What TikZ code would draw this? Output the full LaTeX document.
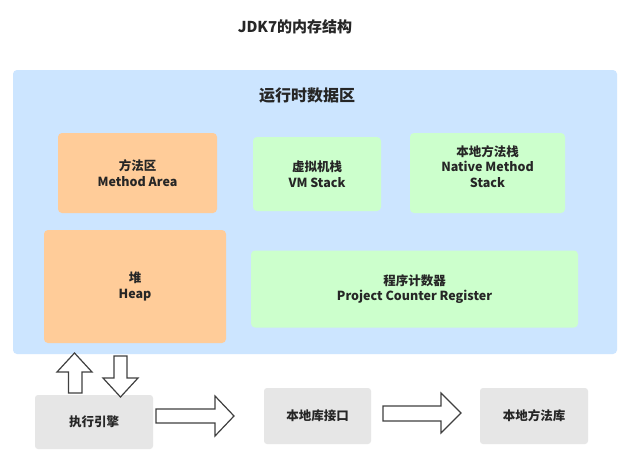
\documentclass[tikz,border=0pt]{standalone}
\usepackage{fontspec}
\setmainfont{Noto Sans CJK SC}
\definecolor{areablue}{HTML}{CCE5FF}
\definecolor{shareorange}{HTML}{FFCC99}
\definecolor{privgreen}{HTML}{CCFFCC}
\definecolor{outgray}{HTML}{E6E6E6}
\definecolor{arrowgray}{HTML}{404040}
\tikzset{
  memarea/.style={rectangle,rounded corners=4pt,inner sep=0pt,align=center,
    font=\fontsize{12.5}{15.5}\selectfont\bfseries,text=black!85},
  sharebox/.style={memarea,fill=shareorange},
  privbox/.style={memarea,fill=privgreen},
  outbox/.style={memarea,fill=outgray,rounded corners=3pt},
  blockarrow/.style={draw=arrowgray,line width=1.2pt,fill=white,line join=miter}
}
\begin{document}
\begin{tikzpicture}[x=1pt,y=-1pt]
\useasboundingbox[fill=white] (0,0) rectangle (621,455);
% title
\node[font=\fontsize{15}{18}\selectfont\bfseries,text=black!85] (title) at (295,27) {JDK7的内存结构};
% runtime data area
\node[memarea,fill=areablue,minimum width=604pt,minimum height=284pt] (runtime) at (315,212) {};
\node[font=\fontsize{16}{19}\selectfont\bfseries,text=black!85] (runtimelabel) at (307,96) {运行时数据区};
\node[sharebox,minimum width=159pt,minimum height=80pt] (method) at (137.5,173) {方法区\\Method Area};
\node[privbox,minimum width=128pt,minimum height=74pt] (vmstack) at (317,174) {虚拟机栈\\VM Stack};
\node[privbox,minimum width=155pt,minimum height=80pt] (native) at (487.5,173) {};
\node[memarea] (nativelabel) at (487.5,166.5) {本地方法栈\\Native Method\\Stack};
\node[sharebox,minimum width=182pt,minimum height=113pt] (heap) at (135,286.5) {堆\\Heap};
\node[privbox,minimum width=327pt,minimum height=77pt] (pc) at (414.5,289) {程序计数器\\Project Counter Register};
% outside
\node[outbox,minimum width=118pt,minimum height=54pt] (engine) at (94,422) {执行引擎};
\node[outbox,minimum width=107pt,minimum height=56pt] (nativeif) at (317.5,416) {本地库接口};
\node[outbox,minimum width=108pt,minimum height=56pt] (nativelib) at (534,416) {本地方法库};
% block arrows
\draw[blockarrow] (68.5,393) -- (68.5,372) -- (57,372) -- (74.5,353) -- (92,372) -- (82,372) -- (82,393) -- cycle;
\draw[blockarrow] (114,356) -- (127,356) -- (127,378) -- (138,378) -- (120.5,397) -- (103,378) -- (114,378) -- cycle;
\draw[blockarrow] (156,409) -- (215,409) -- (215,396) -- (234,416) -- (215,436) -- (215,423) -- (156,423) -- cycle;
\draw[blockarrow] (383,406) -- (441,406) -- (441,393) -- (461,413) -- (441,433) -- (441,421) -- (383,421) -- cycle;
\end{tikzpicture}
\end{document}
